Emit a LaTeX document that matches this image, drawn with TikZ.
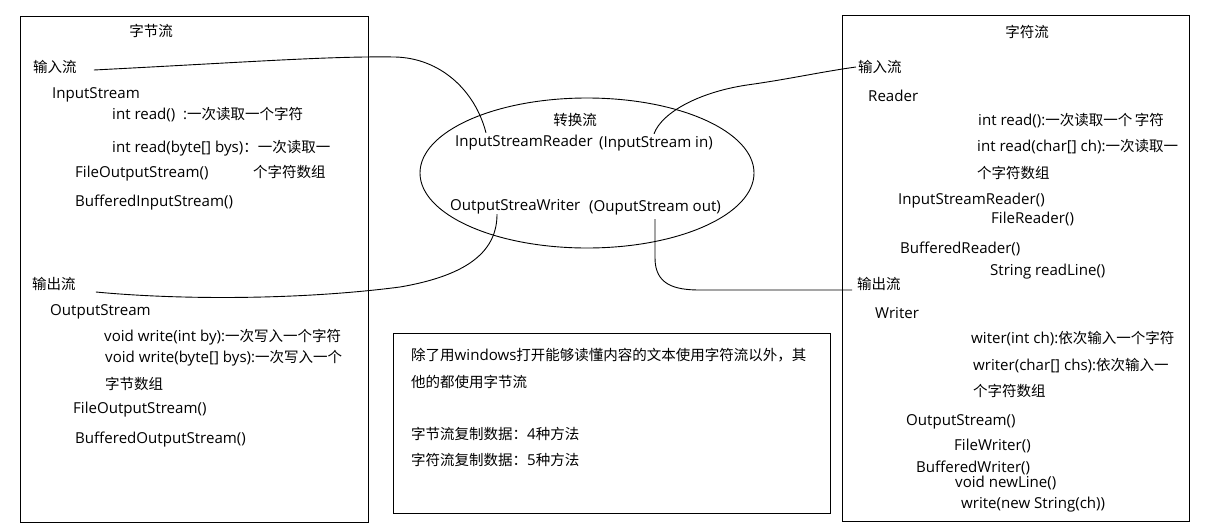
\documentclass[tikz,border=0pt]{standalone}
\usepackage{fontspec}
\setmainfont{Open Sans}[Scale=1.04]
\newfontfamily\cjk{Noto Sans CJK SC}
\begin{document}
\begin{tikzpicture}[x=1pt,y=-1pt,
  t/.style={anchor=west,inner sep=0pt,text height=12pt,text depth=2pt,font=\fontsize{14.5}{17}\selectfont},
  tc/.style={t,anchor=center},
  frame/.style={draw=black,line width=1pt},
  link/.style={draw=black,line width=0.9pt}]
\useasboundingbox (0,0) rectangle (1221,528);
% boxes
\draw[frame] (20,16) rectangle (368,522);
\draw[frame] (842,15) rectangle (1189,521);
\draw[frame] (393,333) rectangle (830,513);
\draw[link] (587,173) ellipse [x radius=167, y radius=75];
% left box
\node[tc] (lt) at (151,31) {\cjk 字节流};
\node[t] (lin) at (33,67) {\cjk 输入流};
\node[t] (lis) at (52,93) {InputStream};
\node[t] (lr1) at (112,114) {int read()\ \ :{\cjk 一次读取一个字符}};
\node[t] (lr2) at (112,147) {int read(byte[] bys){\cjk ：一次读取一}};
\node[t] (lfo) at (75,172) {FileOutputStream()};
\node[t] (lr2b) at (253,172) {\cjk 个字符数组};
\node[t] (lbi) at (75,201) {BufferedInputStream()};
\node[t] (lout) at (32,284) {\cjk 输出流};
\node[t] (los) at (50,310) {OutputStream};
\node[t] (lw1) at (104,336) {void write(int by):{\cjk 一次写入一个字符}};
\node[t] (lw2) at (105,357) {void write(byte[] bys):{\cjk 一次写入一个}};
\node[t] (lw2b) at (105,384) {\cjk 字节数组};
\node[t] (lfo2) at (73,408) {FileOutputStream()};
\node[t] (lbo) at (75,438) {BufferedOutputStream()};
% right box
\node[tc] (rt) at (1027,32) {\cjk 字符流};
\node[t] (rin) at (858,67) {\cjk 输入流};
\node[t] (rrd) at (868,96) {Reader};
\node[t] (rr1) at (978,120) {int read():{\cjk 一次读取一个\,字符}};
\node[t] (rr2) at (977,146) {int read(char[] ch):{\cjk 一次读取一}};
\node[t] (rr2b) at (977,173) {\cjk 个字符数组};
\node[t] (risr) at (898,199) {InputStreamReader()};
\node[t] (rfr) at (991,218) {FileReader()};
\node[t] (rbr) at (900,248) {BufferedReader()};
\node[t] (rrl) at (990,270) {String readLine()};
\node[t] (rout) at (857,284) {\cjk 输出流};
\node[t] (rwr) at (875,313) {Writer};
\node[t] (rw1) at (971,338) {witer(int ch):{\cjk 依次输入一个字符}};
\node[t] (rw2) at (973,365) {writer(char[] chs):{\cjk 依次输入一}};
\node[t] (rw2b) at (973,391) {\cjk 个字符数组};
\node[t] (ros) at (906,420) {OutputStream()};
\node[t] (rfw) at (954,445) {FileWriter()};
\node[t] (rbw) at (916,467) {BufferedWriter()};
\node[t] (rnl) at (955,482) {void newLine()};
\node[t] (rws) at (961,503) {write(new String(ch))};
% middle
\node[tc] (mt) at (575,120) {\cjk 转换流};
\node[t] (misr) at (455,141) {InputStreamReader};
\node[t] (misi) at (599,142) {(InputStream in)};
\node[t] (mosw) at (450,205) {OutputStreaWriter};
\node[t] (moso) at (589,206) {(OuputStream out)};
% note box
\node[t] (n1) at (411,355) {{\cjk 除了用}windows{\cjk 打开能够读懂内容的文本使用字符流以外，其}};
\node[t] (n2) at (411,382) {\cjk 他的都使用字节流};
\node[t] (n3) at (411,434) {{\cjk 字节流复制数据：}4{\cjk 种方法}};
\node[t] (n4) at (411,460) {{\cjk 字符流复制数据：}5{\cjk 种方法}};
% connectors
\draw[link] ([shift={(17,3)}]lin.east) .. controls (250,62) and (330,56) .. (395,57)
  .. controls (440,58) and (475,90) .. ([shift={(31,-1)}]misr.north west);
\draw[link] ([shift={(-2,0)}]rin.west) .. controls (820,72) and (790,79) .. (747,85)
  .. controls (700,92) and (662,112) .. ([shift={(55,-1)}]misi.north west);
\draw[link] ([shift={(20,8)}]lout.east) .. controls (180,300) and (300,300) .. (400,287)
  .. controls (470,275) and (497,250) .. ([shift={(47,2)}]mosw.south west);
\draw[link] ([shift={(66,6)}]moso.south west) -- (655,258) .. controls (655,285) and (675,290) .. (700,290)
  -- ([shift={(-5,6)}]rout.west);
\end{tikzpicture}
\end{document}
